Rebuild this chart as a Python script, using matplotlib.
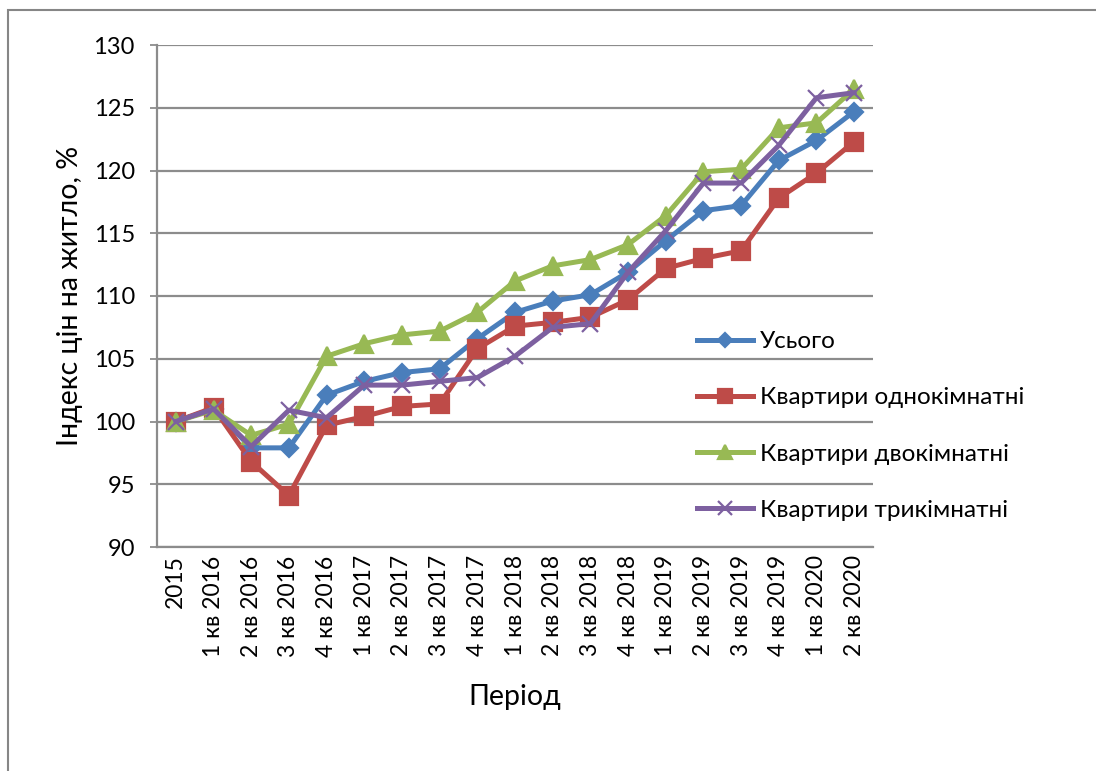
import numpy as np
import matplotlib
matplotlib.use('Agg')
import matplotlib.pyplot as plt
from matplotlib.patches import Rectangle

plt.rcParams['font.family'] = ['Lato', 'DejaVu Sans']

# periods and index values (2015 = 100)
periods = ['2015', '1 кв 2016', '2 кв 2016', '3 кв 2016', '4 кв 2016',
           '1 кв 2017', '2 кв 2017', '3 кв 2017', '4 кв 2017',
           '1 кв 2018', '2 кв 2018', '3 кв 2018', '4 кв 2018',
           '1 кв 2019', '2 кв 2019', '3 кв 2019', '4 кв 2019',
           '1 кв 2020', '2 кв 2020']
total = [100, 101.0, 97.9, 97.9, 102.1, 103.2, 103.9, 104.2, 106.6,
         108.7, 109.6, 110.1, 111.9, 114.4, 116.8, 117.2, 120.8, 122.4, 124.7]
one_room = [100, 101.1, 96.8, 94.1, 99.7, 100.4, 101.2, 101.4, 105.8,
            107.6, 107.9, 108.3, 109.7, 112.2, 113.0, 113.6, 117.8, 119.8, 122.3]
two_room = [100, 100.9, 98.9, 99.8, 105.2, 106.2, 106.9, 107.2, 108.7,
            111.2, 112.4, 112.9, 114.1, 116.4, 119.9, 120.1, 123.4, 123.8, 126.5]
three_room = [100, 101.0, 98.0, 100.9, 100.3, 102.9, 102.9, 103.2, 103.5,
              105.2, 107.5, 107.8, 111.9, 115.2, 119.0, 119.0, 122.0, 125.8, 126.2]

series = [
    ('Усього', total, '#4A7EBB', 'D', 9),
    ('Квартири однокімнатні', one_room, '#BE4B48', 's', 12.5),
    ('Квартири двокімнатні', two_room, '#98B954', '^', 12.5),
    ('Квартири трикімнатні', three_room, '#7D60A0', 'x', 12),
]

grid_col = '#8C8C8C'

fig = plt.figure(figsize=(10.96, 7.71), dpi=100)
ax = fig.add_axes([157/1096, 1 - 547/771, 716/1096, 502/771])

x = np.arange(len(periods))
for name, vals, col, mk, ms in series:
    ax.plot(x, vals, color=col, lw=3.6, marker=mk, ms=ms,
            mfc=col, mec=col, mew=1.6, label=name, zorder=3)

ax.set_xlim(-0.5, len(periods) - 0.5)
ax.set_ylim(90, 130)
ax.set_yticks(np.arange(90, 131, 5))
ax.set_xticks(x)
ax.set_xticklabels(periods, rotation=90, fontsize=16.5)
ax.tick_params(axis='x', length=0, pad=6)
ax.tick_params(axis='y', length=5, width=1.3, color=grid_col, pad=11, labelsize=17)
ax.yaxis.grid(True, color=grid_col, lw=1.6)
ax.set_axisbelow(True)
for side in ['top', 'right']:
    ax.spines[side].set_visible(False)
for side in ['left', 'bottom']:
    ax.spines[side].set_color(grid_col)
    ax.spines[side].set_linewidth(1.6)

ax.set_ylabel('Індекс цін на житло, %', fontsize=20.5)
ax.yaxis.set_label_coords(-0.103, 0.5)
ax.set_xlabel('Період', fontsize=20.5)
ax.xaxis.set_label_coords(0.5, -0.273)

ax.legend(loc='center left', bbox_to_anchor=(697/1096, 1 - 426/771),
          bbox_transform=fig.transFigure, frameon=False, fontsize=17.5,
          handlelength=2.3, handletextpad=0.3, labelspacing=1.45,
          borderpad=0, borderaxespad=0, markerscale=0.8)

# outer chart frame
fig.patches.append(Rectangle((8/1096, -0.1), 1.2, 1.1 - 10/771,
                             transform=fig.transFigure, fill=False,
                             ec='#868686', lw=1.5))

fig.savefig('out.png', dpi=100)
